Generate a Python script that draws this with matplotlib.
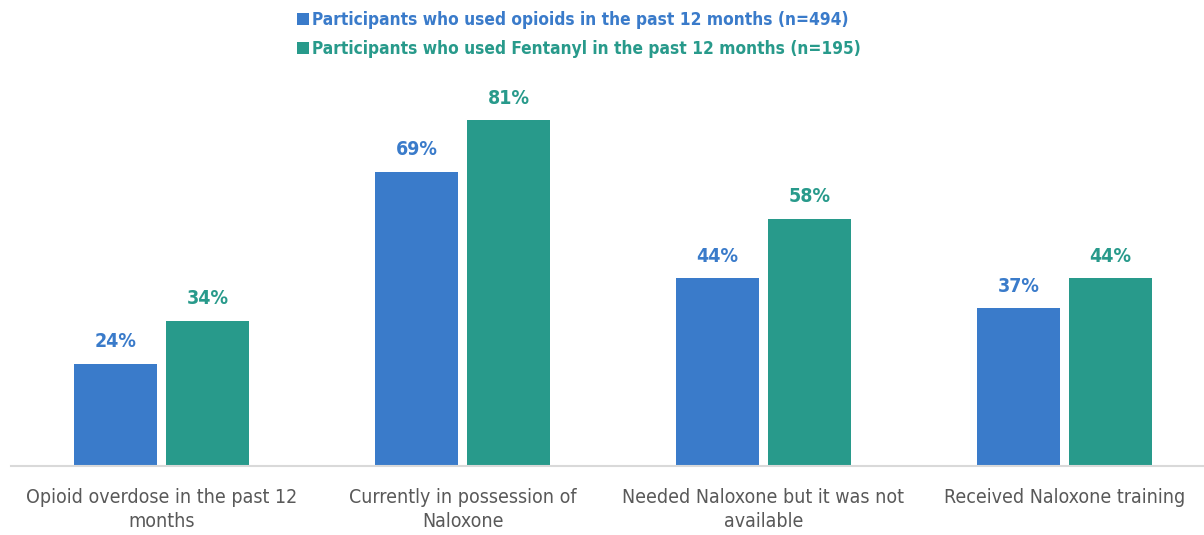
import numpy as np
import matplotlib
matplotlib.use('Agg')
import matplotlib.pyplot as plt
from matplotlib import font_manager

# ── 数据 ──
categories = [
    "Opioid overdose in the past 12\nmonths",
    "Currently in possession of\nNaloxone",
    "Needed Naloxone but it was not\navailable",
    "Received Naloxone training",
]
opioid_vals = [24, 69, 44, 37]
fentanyl_vals = [34, 81, 58, 44]
series_names = [
    "Participants who used opioids in the past 12 months (n=494)",
    "Participants who used Fentanyl in the past 12 months (n=195)",
]

BLUE = "#3A7BCA"
GREEN = "#289A8B"
GREY = "#595959"

# 找一个窄体字体（参考图是压缩字体）
narrow = None
for f in font_manager.fontManager.ttflist:
    if f.stretch in ('condensed', 'semi-condensed', 'extra-condensed') or \
            'Narrow' in f.name or 'Condensed' in f.name:
        narrow = f
        break
if narrow is not None:
    FAMILY = [narrow.name, 'DejaVu Sans']
    STRETCH = narrow.stretch
else:
    FAMILY = ['DejaVu Sans']
    STRETCH = 'condensed'
plt.rcParams['font.family'] = FAMILY
plt.rcParams['font.stretch'] = STRETCH

fig = plt.figure(figsize=(12.04, 5.35), dpi=100)
ax = fig.add_axes([11 / 1204, 69 / 535, (1204 - 11) / 1204, (466 - 82) / 535])

x = np.arange(len(categories))
w = 0.276
off = 0.153
b1 = ax.bar(x - off, opioid_vals, w, color=BLUE, label=series_names[0])
b2 = ax.bar(x + off, fentanyl_vals, w, color=GREEN, label=series_names[1])

for bars, vals, col in [(b1, opioid_vals, BLUE), (b2, fentanyl_vals, GREEN)]:
    for r, v in zip(bars, vals):
        ax.annotate(f"{v}%", (r.get_x() + r.get_width() / 2, v),
                    xytext=(0, 9), textcoords='offset points',
                    ha='center', va='bottom', color=col,
                    fontsize=14, fontweight='bold')

ax.set_xlim(-0.5, (1204 - 161.5) / 301)
ax.set_ylim(0, 90)
ax.set_yticks([])
ax.set_xticks(x)
ax.set_xticklabels(categories, fontsize=14, color=GREY, linespacing=1.3)
ax.tick_params(axis='x', length=0, pad=16)
for s in ['top', 'right', 'left']:
    ax.spines[s].set_visible(False)
ax.spines['bottom'].set_color('#D9D9D9')
ax.spines['bottom'].set_linewidth(1.5)

fig.legend(handles=[b1, b2], loc='upper left', bbox_to_anchor=(281 / 1204, 1.008),
           frameon=False, handlelength=0.7, handleheight=0.7,
           handletextpad=0.2, labelspacing=0.62, labelcolor=[BLUE, GREEN],
           prop={'weight': 'bold', 'size': 12.4})

fig.savefig('out.png', dpi=100)
